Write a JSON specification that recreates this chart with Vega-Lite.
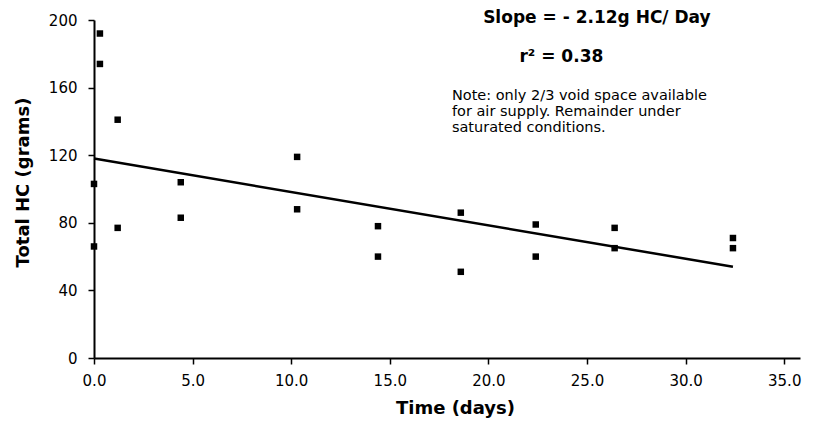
{
  "$schema": "https://vega.github.io/schema/vega-lite/v6.json",
  "width": 706,
  "height": 338,
  "autosize": {"type": "none"},
  "padding": {"left": 94, "top": 20, "right": 23, "bottom": 68},
  "background": "white",
  "config": {
    "view": {"stroke": null},
    "font": "DejaVu Sans",
    "axis": {
      "grid": false,
      "domainColor": "black",
      "domainWidth": 2,
      "tickColor": "black",
      "tickWidth": 1.5,
      "tickSize": 6,
      "labelFlush": false,
      "labelFont": "DejaVu Sans",
      "labelFontSize": 15,
      "labelColor": "black",
      "labelPadding": 9,
      "titleFont": "DejaVu Sans",
      "titleFontSize": 18,
      "titleFontWeight": "bold",
      "titleColor": "black"
    }
  },
  "datasets": {
    "points": [
      {"t": 0.0, "hc": 103},
      {"t": 0.0, "hc": 66},
      {"t": 0.3, "hc": 192},
      {"t": 0.3, "hc": 174},
      {"t": 1.2, "hc": 141},
      {"t": 1.2, "hc": 77},
      {"t": 4.4, "hc": 104},
      {"t": 4.4, "hc": 83},
      {"t": 10.3, "hc": 119},
      {"t": 10.3, "hc": 88},
      {"t": 14.4, "hc": 78},
      {"t": 14.4, "hc": 60},
      {"t": 18.6, "hc": 86},
      {"t": 18.6, "hc": 51},
      {"t": 22.4, "hc": 79},
      {"t": 22.4, "hc": 60},
      {"t": 26.4, "hc": 77},
      {"t": 26.4, "hc": 65},
      {"t": 32.4, "hc": 71},
      {"t": 32.4, "hc": 65}
    ],
    "fit": [
      {"t": 0.0, "hc": 118},
      {"t": 32.4, "hc": 54}
    ],
    "notes": [
      {"t": 25.5, "hc": 201, "label": "Slope =  - 2.12g HC/ Day", "kind": "big"},
      {"t": 23.7, "hc": 178, "label": "r² = 0.38", "kind": "big"},
      {"t": 18.15, "hc": 154.9, "label": "Note: only 2/3 void space available", "kind": "small"},
      {"t": 18.15, "hc": 145.4, "label": "for air supply. Remainder under", "kind": "small"},
      {"t": 18.15, "hc": 135.9, "label": "saturated conditions.", "kind": "small"}
    ]
  },
  "layer": [
    {
      "data": {"name": "points"},
      "mark": {"type": "square", "size": 42, "color": "black", "opacity": 1},
      "encoding": {
        "x": {
          "field": "t", "type": "quantitative",
          "scale": {"domain": [0, 35.8], "nice": false, "zero": false},
          "axis": {"values": [0, 5, 10, 15, 20, 25, 30, 35], "format": ".1f", "title": "Time (days)", "titlePadding": 11, "titleX": 361}
        },
        "y": {
          "field": "hc", "type": "quantitative",
          "scale": {"domain": [0, 200], "nice": false},
          "axis": {"values": [0, 40, 80, 120, 160, 200], "title": "Total HC (grams)", "titlePadding": 16, "labelPadding": 11, "titleY": 162}
        }
      }
    },
    {
      "data": {"name": "fit"},
      "mark": {"type": "line", "color": "black", "strokeWidth": 2.5},
      "encoding": {
        "x": {"field": "t", "type": "quantitative"},
        "y": {"field": "hc", "type": "quantitative"}
      }
    },
    {
      "data": {"name": "notes"},
      "transform": [{"filter": "datum.kind === 'big'"}],
      "mark": {"type": "text", "fontSize": 17, "fontWeight": "bold", "color": "black", "align": "center", "baseline": "middle", "font": "DejaVu Sans"},
      "encoding": {
        "x": {"field": "t", "type": "quantitative"},
        "y": {"field": "hc", "type": "quantitative"},
        "text": {"field": "label"}
      }
    },
    {
      "data": {"name": "notes"},
      "transform": [{"filter": "datum.kind === 'small'"}],
      "mark": {"type": "text", "fontSize": 14.5, "color": "black", "align": "left", "baseline": "middle", "font": "DejaVu Sans"},
      "encoding": {
        "x": {"field": "t", "type": "quantitative"},
        "y": {"field": "hc", "type": "quantitative"},
        "text": {"field": "label"}
      }
    }
  ]
}
